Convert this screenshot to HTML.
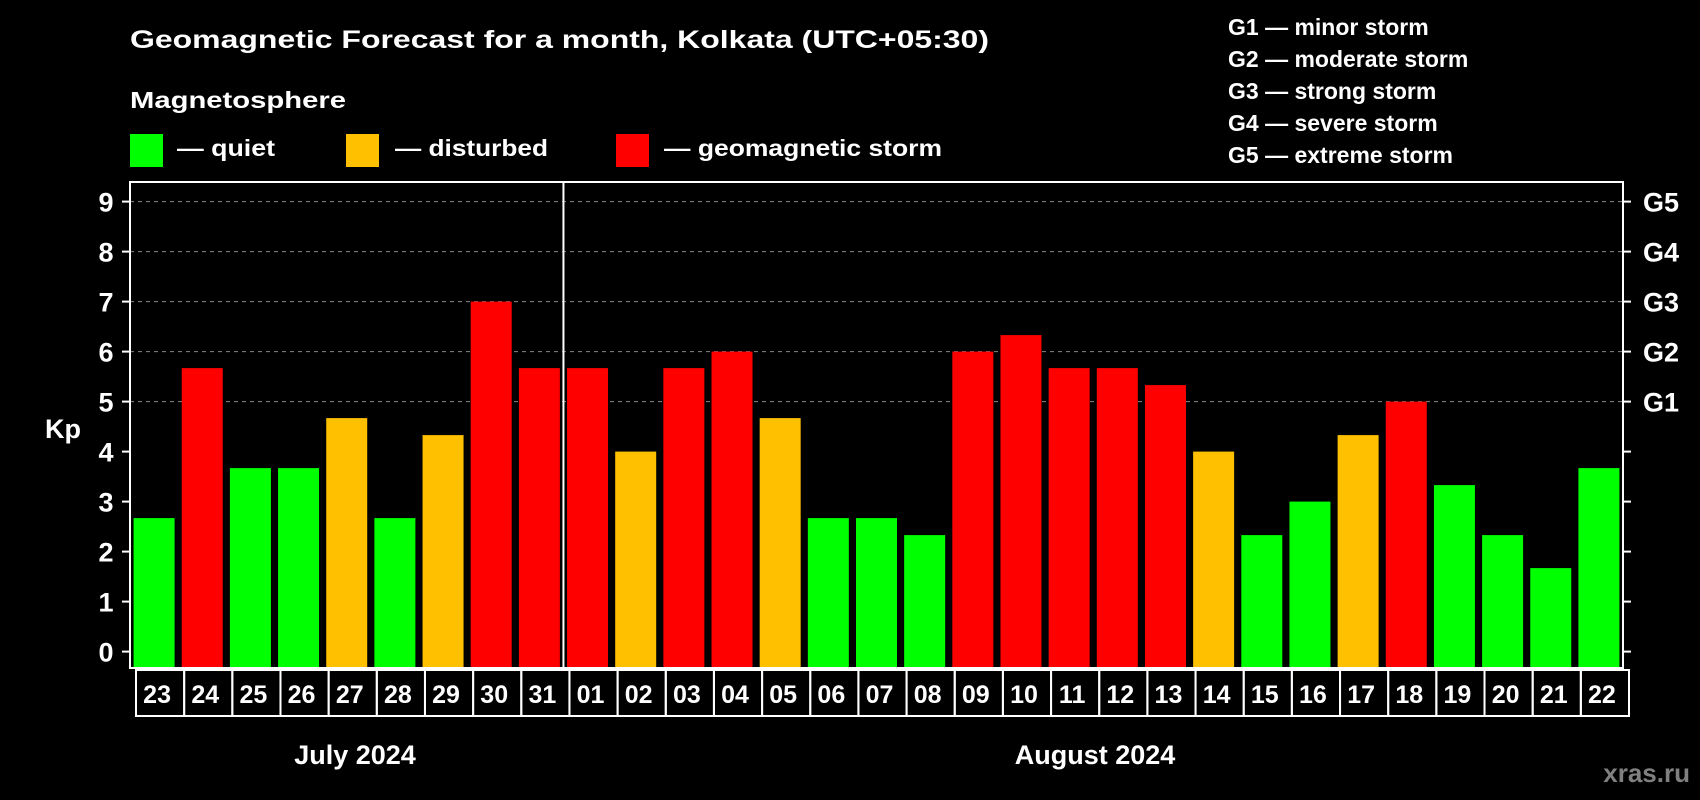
<!DOCTYPE html>
<html><head><meta charset="utf-8"><style>
html,body{margin:0;padding:0;background:#000;}
svg{display:block;font-family:"Liberation Sans",sans-serif;font-weight:bold;}
</style></head><body>
<svg id="chart" width="1700" height="800" viewBox="0 0 1700 800">
<text x="130" y="48" font-size="25" fill="#fff" textLength="859" lengthAdjust="spacingAndGlyphs">Geomagnetic Forecast for a month, Kolkata (UTC+05:30)</text>
<text x="130" y="108" font-size="23" fill="#fff" textLength="216" lengthAdjust="spacingAndGlyphs">Magnetosphere</text>
<g><rect x="130" y="134" width="33" height="33" fill="#00ff00"/><text x="177" y="156" font-size="23" fill="#fff" textLength="98" lengthAdjust="spacingAndGlyphs">— quiet</text></g>
<g><rect x="346" y="134" width="33" height="33" fill="#ffc000"/><text x="395" y="156" font-size="23" fill="#fff" textLength="153" lengthAdjust="spacingAndGlyphs">— disturbed</text></g>
<g><rect x="616" y="134" width="33" height="33" fill="#ff0000"/><text x="664" y="156" font-size="23" fill="#fff" textLength="278" lengthAdjust="spacingAndGlyphs">— geomagnetic storm</text></g>
<g font-size="23" fill="#fff">
<text x="1228" y="35">G1 — minor storm</text>
<text x="1228" y="67">G2 — moderate storm</text>
<text x="1228" y="99">G3 — strong storm</text>
<text x="1228" y="131">G4 — severe storm</text>
<text x="1228" y="163">G5 — extreme storm</text>
</g>
<text x="63" y="438" font-size="27" fill="#fff" text-anchor="middle">Kp</text>
<text x="355" y="764" font-size="27" fill="#fff" text-anchor="middle">July 2024</text>
<text x="1095" y="764" font-size="27" fill="#fff" text-anchor="middle">August 2024</text>
<text x="1690" y="782" font-size="26" fill="#808080" text-anchor="end">xras.ru</text>
<g id="grid"></g><g id="bars"></g><g id="axes"></g><g id="dates"></g>
</svg>
<script>
const days = ["23","24","25","26","27","28","29","30","31","01","02","03","04","05","06","07","08","09","10","11","12","13","14","15","16","17","18","19","20","21","22"];
const kp = [2.67,5.67,3.67,3.67,4.67,2.67,4.33,7,5.67,5.67,4,5.67,6,4.67,2.67,2.67,2.33,6,6.33,5.67,5.67,5.33,4,2.33,3,4.33,5,3.33,2.33,1.67,3.67];
const yTicks = [0,1,2,3,4,5,6,7,8,9];
const gLabels = ["G1","G2","G3","G4","G5"];
const gLevels = [5,6,7,8,9];
const NS="http://www.w3.org/2000/svg";
const L=130,R=1623,T=182,B=668;
const y0=651.6, unit=50;
const y=v=>y0-v*unit;
const pitch=(R-L)/days.length;
const xc=i=>L+pitch*(i+0.5);
function mk(tag,attrs,parent){const e=document.createElementNS(NS,tag);for(const k in attrs)e.setAttribute(k,attrs[k]);document.getElementById(parent).appendChild(e);return e;}
yTicks.forEach(t=>{
  if(t>=5){const g=mk('line',{x1:L,x2:R,y1:y(t),y2:y(t),stroke:'#888','stroke-dasharray':'4,4','stroke-width':1},'grid');
  
  }
  const a=mk('line',{x1:L-8,x2:L,y1:y(t),y2:y(t),stroke:'#fff','stroke-width':2},'axes');
  
  
  const b=mk('line',{x1:R,x2:R+8,y1:y(t),y2:y(t),stroke:'#fff','stroke-width':2},'axes');
  
  
  const tx=mk('text',{x:106,y:y(t)+10,'font-size':27,fill:'#fff','text-anchor':'middle'},'axes');
  tx.textContent=t;
  
  
});
gLevels.forEach((lv,i)=>{
  const tx=mk('text',{x:1643,y:y(lv)+10,'font-size':27,fill:'#fff'},'axes');
  tx.textContent=gLabels[i];
  
  
});
kp.forEach((v,i)=>{
  const c=v>=5?'#ff0000':(v>=4?'#ffc000':'#00ff00');
  const bw=41;
  const r=mk('rect',{x:xc(i)-bw/2,y:y(v),width:bw,height:B-y(v),fill:c},'bars');
  
  
  const cell=mk('rect',{x:L+6+pitch*i,y:670,width:pitch,height:46,fill:'none',stroke:'#fff','stroke-width':2},'dates');
  
  
  const t=mk('text',{x:xc(i)+3,y:703,'font-size':25,fill:'#fff','text-anchor':'middle'},'dates');
  t.textContent=days[i];
  
  
});
const fr=mk('rect',{x:L,y:T,width:R-L,height:B-T,fill:'none',stroke:'#fff','stroke-width':2},'axes');


const dv=mk('line',{x1:L+pitch*9,x2:L+pitch*9,y1:T,y2:B,stroke:'#fff','stroke-width':2},'axes');


</script>
</body></html>
